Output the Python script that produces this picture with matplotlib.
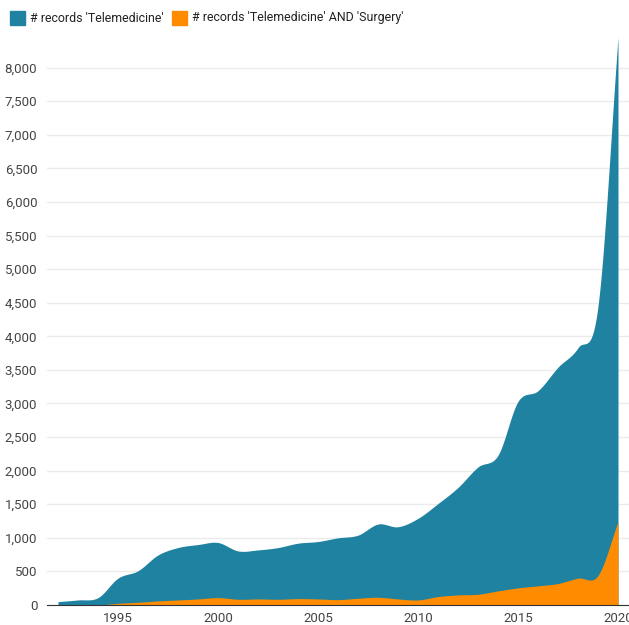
import matplotlib
matplotlib.use('Agg')
import matplotlib.pyplot as plt
import numpy as np
from matplotlib.patches import Rectangle

years = list(range(1992, 2021))
telemedicine = [50, 75, 110, 400, 510, 745, 855, 900, 930, 805, 820, 855, 920, 945,
                1000, 1040, 1205, 1165, 1290, 1510, 1750, 2055, 2230, 3030, 3190,
                3540, 3830, 4450, 8450]
surgery = [0, 0, 0, 25, 40, 60, 75, 90, 110, 85, 90, 85, 95, 90, 80, 100, 115, 90,
           75, 125, 150, 160, 210, 255, 285, 320, 400, 440, 1240]
labels = ["# records 'Telemedicine'", "# records 'Telemedicine' AND 'Surgery'"]
colors = ['#1f82a0', '#ff8c00']
yticks = list(range(0, 8001, 500))
xticks = [1995, 2000, 2005, 2010, 2015, 2020]


# cardinal spline through the points, like the smooth curve of the original
def smooth(x, y, n=40):
    x = np.asarray(x, float)
    y = np.asarray(y, float)
    m = np.zeros_like(y)
    m[1:-1] = (y[2:] - y[:-2]) / (x[2:] - x[:-2])
    m[0] = (y[1] - y[0]) / (x[1] - x[0])
    m[-1] = (y[-1] - y[-2]) / (x[-1] - x[-2])
    xs, ys = [], []
    for i in range(len(x) - 1):
        h = x[i + 1] - x[i]
        t = np.linspace(0, 1, n, endpoint=False)
        h00 = 2 * t**3 - 3 * t**2 + 1
        h10 = t**3 - 2 * t**2 + t
        h01 = -2 * t**3 + 3 * t**2
        h11 = t**3 - t**2
        xs.append(x[i] + t * h)
        ys.append(h00 * y[i] + h10 * h * m[i] + h01 * y[i + 1] + h11 * h * m[i + 1])
    xs.append([x[-1]])
    ys.append([y[-1]])
    return np.concatenate(xs), np.clip(np.concatenate(ys), 0, None)


plt.rcParams['font.family'] = ['Roboto', 'DejaVu Sans']
fig = plt.figure(figsize=(6.29, 6.25), dpi=100)
ax = fig.add_axes([47 / 629, 20 / 625, 582 / 629, 571 / 625])

for vals, col in zip([telemedicine, surgery], colors):
    sx, sy = smooth(years, vals)
    ax.fill_between(sx, 0, sy, color=col, linewidth=0, zorder=2)

ax.set_xlim(1991.45, 2020.55)
ax.set_ylim(0, 8500)
ax.set_yticks(yticks)
ax.set_yticklabels(['{:,}'.format(v) for v in yticks])
ax.set_xticks(xticks)
ax.yaxis.grid(True, color='#ebebeb', linewidth=1, zorder=0)
ax.set_axisbelow(True)
for s in ['top', 'right', 'left']:
    ax.spines[s].set_visible(False)
ax.spines['bottom'].set_color('#333333')
ax.spines['bottom'].set_zorder(3)
ax.tick_params(axis='both', length=0, labelsize=9.5, colors='#444444')
ax.tick_params(axis='y', pad=7)
ax.tick_params(axis='x', pad=5)

# legend on top, squares and text
lx = [10 / 629, 172 / 629]
for x0, lab, col in zip(lx, labels, colors):
    fig.patches.append(Rectangle((x0, 1 - 25 / 625), 15 / 629, 14 / 625,
                                 transform=fig.transFigure, color=col))
    fig.text(x0 + 20 / 629, 1 - 18 / 625, lab, fontsize=8.9, color='#222222',
             va='center', ha='left')

plt.savefig('out.png', dpi=100)
